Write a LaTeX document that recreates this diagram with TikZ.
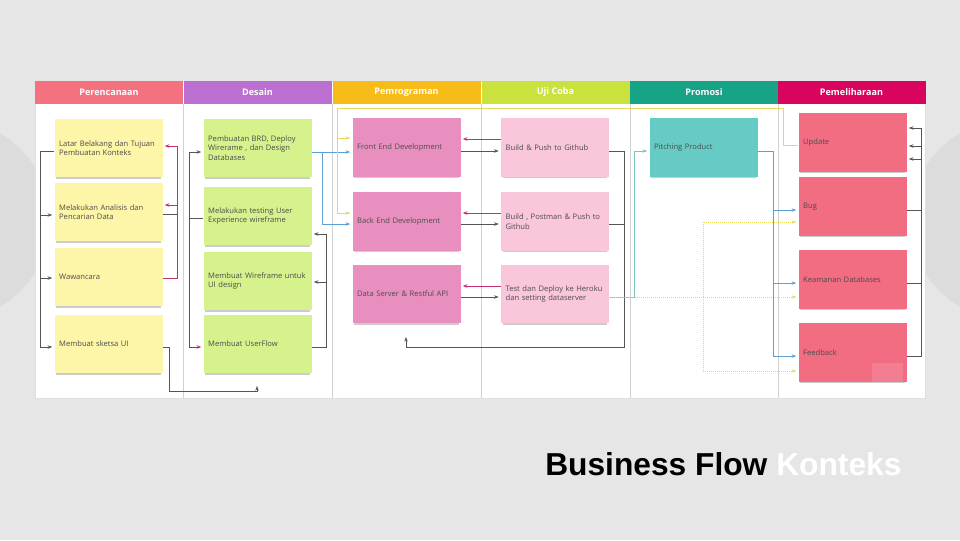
\documentclass[tikz,border=0pt]{standalone}
\usepackage{fontspec}
\setmainfont{Open Sans}
\newfontfamily\titlefont{Liberation Sans}
\usetikzlibrary{arrows.meta,shadows}

\definecolor{slide}{HTML}{E6E6E6}
\definecolor{slidecirc}{HTML}{DCDCDC}
\definecolor{hper}{HTML}{F4727F}
\definecolor{hdes}{HTML}{BB6FD1}
\definecolor{hpro}{HTML}{F7BC18}
\definecolor{huji}{HTML}{CBE13E}
\definecolor{hprm}{HTML}{17A386}
\definecolor{hpel}{HTML}{D8045E}
\definecolor{nyel}{HTML}{FDF5A8}
\definecolor{ngrn}{HTML}{D6F28C}
\definecolor{npnk}{HTML}{E98FC0}
\definecolor{nlpk}{HTML}{FAC6DC}
\definecolor{ntea}{HTML}{66CBC4}
\definecolor{nred}{HTML}{F26C82}
\definecolor{cgray}{HTML}{555555}
\definecolor{cmag}{HTML}{C2316E}
\definecolor{cblue}{HTML}{5E9FD3}
\definecolor{cyel}{HTML}{E6D85A}
\definecolor{cteal}{HTML}{7CC3BE}

\tikzstyle{lane}=[draw=none, minimum width=111pt, minimum height=17.25pt, inner sep=0pt, text=white, font=\fontsize{6.8}{8}\selectfont\bfseries]
\tikzstyle{note}=[rectangle, minimum width=81pt, minimum height=44pt, text width=74pt, inner xsep=3.5pt, align=left, text=black!70, font=\fontsize{5.7}{7.2}\selectfont, drop shadow={shadow xshift=0pt, shadow yshift=-1.8pt, shadow scale=0.97, opacity=0.4}]
\tikzstyle{gline}=[cgray, line width=0.5pt]
\tikzstyle{dir}=[gline, -{Stealth[length=3.5pt,width=2.6pt]}, shorten >=1.5pt]
\tikzstyle{mline}=[cmag, line width=0.5pt]
\tikzstyle{mdir}=[mline, -{Stealth[length=3.5pt,width=2.6pt]}, shorten >=1.5pt]
\tikzstyle{bdir}=[cblue, line width=0.5pt, -{Stealth[length=3.5pt,width=2.6pt]}, shorten >=1.5pt]
\tikzstyle{ydir}=[cyel, line width=0.5pt, -{Stealth[length=3.5pt,width=2.6pt]}, shorten >=1.5pt]
\tikzstyle{ydot}=[ydir, densely dotted]
\tikzstyle{tdir}=[cteal, line width=0.5pt, -{Stealth[length=3.5pt,width=2.6pt]}, shorten >=1.5pt]

\begin{document}
\begin{tikzpicture}[x=0.75pt, y=-0.75pt]
        \useasboundingbox (0,0) rectangle (960,540);
        \fill[slide] (0,0) rectangle (960,540);
        \fill[slidecirc] (-50,220) circle (75pt);
        \fill[slidecirc] (1010,220) circle (75pt);

        \fill[white] (35,81) rectangle (925,398);
        \draw[black!12, line width=0.4pt] (35,81) rectangle (925,398);
        \draw[black!18, line width=0.4pt] (183,104) -- (183,398);
        \draw[black!18, line width=0.4pt] (332,104) -- (332,398);
        \draw[black!18, line width=0.4pt] (481,104) -- (481,398);
        \draw[black!18, line width=0.4pt] (630,104) -- (630,398);
        \draw[black!18, line width=0.4pt] (778,104) -- (778,398);

        \node[lane, fill=hper] (hPer) at (109,92.5) {Perencanaan};
        \node[lane, fill=hdes] (hDes) at (257.5,92.5) {Desain};
        \node[lane, fill=hpro] (hPro) at (406.5,92.5) {Pemrograman};
        \node[lane, fill=huji] (hUji) at (555.5,92.5) {Uji Coba};
        \node[lane, fill=hprm] (hPrm) at (704,92.5) {Promosi};
        \node[lane, fill=hpel] (hPel) at (851.5,92.5) {Pemeliharaan};

        \node[note, fill=nyel] (p1) at (108.5,148) {Latar Belakang dan Tujuan Pembuatan Konteks};
        \node[note, fill=nyel] (p2) at (108.5,212) {Melakukan Analisis dan Pencarian Data};
        \node[note, fill=nyel] (p3) at (108.5,277) {Wawancara};
        \node[note, fill=nyel] (p4) at (108.5,344) {Membuat sketsa UI};

        \node[note, fill=ngrn] (d1) at (257.5,148) {Pembuatan BRD, Deploy Wirerame , dan Design Databases};
        \node[note, fill=ngrn] (d2) at (257.5,216) {Melakukan testing User Experience wireframe};
        \node[note, fill=ngrn] (d3) at (257.5,281) {Membuat Wireframe untuk UI design};
        \node[note, fill=ngrn] (d4) at (257.5,344) {Membuat UserFlow};

        \node[note, fill=npnk] (f1) at (406.5,147.5) {Front End Development};
        \node[note, fill=npnk] (f2) at (406.5,221.5) {Back End Development};
        \node[note, fill=npnk] (f3) at (406.5,294) {Data Server \& Restful API};

        \node[note, fill=nlpk] (u1) at (555,147.5) {Build \& Push to Github};
        \node[note, fill=nlpk] (u2) at (555,221.5) {Build , Postman \& Push to Github};
        \node[note, fill=nlpk] (u3) at (555,294) {Test dan Deploy ke Heroku dan setting dataserver};

        \node[note, fill=ntea] (pp) at (703.5,147.5) {Pitching Product};

        \node[note, fill=nred] (m1) at (852.5,142.5) {Update};
        \node[note, fill=nred] (m2) at (852.5,206.5) {Bug};
        \node[note, fill=nred] (m3) at (852.5,279.5) {Keamanan Databases};
        \node[note, fill=nred] (m4) at (852.5,352.5) {Feedback};
        \node[fill=white, fill opacity=0.12, text=nred!70!white, minimum width=23pt, minimum height=14pt, font=\fontsize{5}{6}\selectfont] (miro) at (887.5,372.5) {miro};

        \coordinate (busL) at (40,151);
        \draw[dir] (p1.west |- 0,151) -- (busL) |- (p4.west |- 0,347);
        \draw[dir] (busL |- 0,215) -- (p2.west |- 0,215);
        \draw[dir] (busL |- 0,278) -- (p3.west |- 0,278);

        \coordinate (busPR) at (177,278);
        \draw[mdir] (p3.east |- 0,278) -- (busPR) |- (p1.east |- 0,146);
        \draw[mdir] (busPR |- 0,205) -- (p2.east |- 0,205);
        \draw[gline] (p2.east |- 0,214) -- (busPR |- 0,214);

        \coordinate (sketsaDrop) at (169,391);
        \coordinate (endUF) at (257,384);
        \draw[dir] (p4.east |- 0,347) -| (sketsaDrop) -| (endUF);

        \coordinate (busDL) at (189,218);
        \draw[gline] (d2.west |- 0,218) -- (busDL);
        \draw[dir] (busDL) |- (d1.west |- 0,152);
        \draw[gline, -{Stealth[length=3.5pt,width=2.6pt,color=cmag]}, shorten >=1.5pt] (busDL) |- (d4.west |- 0,347);

        \coordinate (busDR) at (326,347);
        \draw[dir] (d4.east |- 0,347) -- (busDR) |- (d2.east |- 0,234);
        \draw[dir] (busDR |- 0,282) -- (d3.east |- 0,282);

        \coordinate (busB) at (322,152);
        \draw[bdir] (d1.east |- 0,152) -- (f1.west |- 0,152);
        \draw[bdir] (busB) |- (f2.west |- 0,224);

        \coordinate (busY1) at (783,108);
        \coordinate (busY2) at (337,108);
        \draw[ydir] (m1.west |- 0,145) -| (busY1) -- (busY2) |- (f2.west |- 0,213);
        \draw[ydir] (busY2 |- 0,138) -- (f1.west |- 0,138);

        \draw[mdir] (u1.west |- 0,139) -- (f1.east |- 0,139);
        \draw[dir] (f1.east |- 0,151) -- (u1.west |- 0,151);
        \draw[mdir] (u2.west |- 0,213) -- (f2.east |- 0,213);
        \draw[dir] (f2.east |- 0,224) -- (u2.west |- 0,224);
        \draw[mdir] (u3.west |- 0,286) -- (f3.east |- 0,286);
        \draw[dir] (f3.east |- 0,297) -- (u3.west |- 0,297);

        \coordinate (busU) at (624,347);
        \coordinate (endDS) at (406,335);
        \draw[dir] (u1.east |- 0,151) -| (busU) -| (endDS);
        \draw[gline] (u2.east |- 0,224) -- (busU |- 0,224);

        \coordinate (busT) at (634,297);
        \draw[tdir] (u3.east |- 0,297) -- (busT) |- (pp.west |- 0,151);

        \coordinate (busYD) at (703,297);
        \draw[ydot] (u3.east |- 0,297) -- (m3.west |- 0,297);
        \draw[ydot] (busYD) |- (m2.west |- 0,222);
        \draw[ydot] (busYD) |- (m4.west |- 0,371);

        \coordinate (busPB) at (773,151);
        \draw[bdir] (pp.east |- 0,151) -- (busPB) |- (m4.west |- 0,356);
        \draw[bdir] (busPB |- 0,210) -- (m2.west |- 0,210);
        \draw[bdir] (busPB |- 0,283) -- (m3.west |- 0,283);

        \coordinate (busMR) at (921,356);
        \draw[gline] (m4.east |- 0,356) -- (busMR) -- (busMR |- 0,128);
        \draw[gline] (m2.east |- 0,210) -- (busMR |- 0,210);
        \draw[gline] (m3.east |- 0,283) -- (busMR |- 0,283);
        \draw[dir] (busMR |- 0,128) -- (m1.east |- 0,128);
        \draw[dir] (busMR |- 0,146) -- (m1.east |- 0,146);
        \draw[dir] (busMR |- 0,159) -- (m1.east |- 0,159);

        \node[anchor=base west, inner sep=0pt, font=\titlefont\fontsize{23.8}{27}\selectfont\bfseries] (title) at (545,475) {Business Flow \textcolor{white}{Konteks}};
\end{tikzpicture}
\end{document}
